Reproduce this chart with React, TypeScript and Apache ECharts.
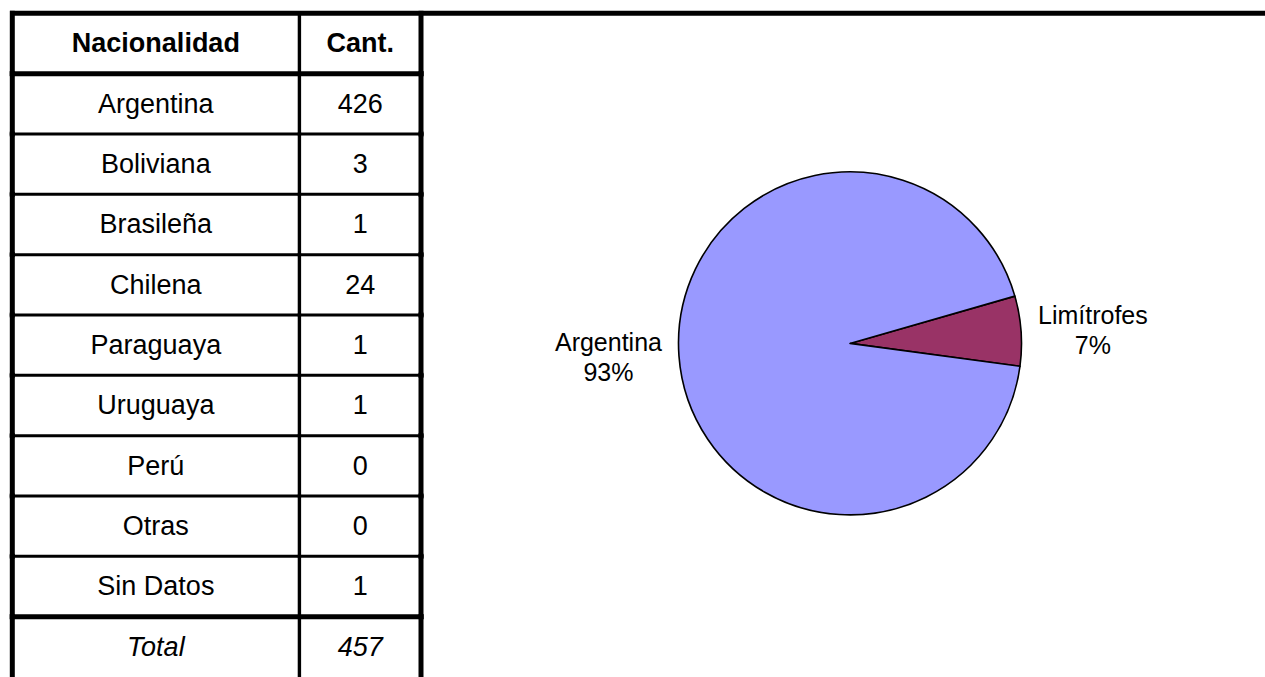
import React, { useEffect, useRef } from "react";
import * as echarts from "echarts";

// ---- Data ----
const headerLabels = ["Nacionalidad", "Cant."];
const nationalities = [
  "Argentina",
  "Boliviana",
  "Brasileña",
  "Chilena",
  "Paraguaya",
  "Uruguaya",
  "Perú",
  "Otras",
  "Sin Datos",
];
const counts = [426, 3, 1, 24, 1, 1, 0, 0, 1];
const totalLabel = "Total";
const totalCount = 457;

const pieNames = ["Limítrofes", "Argentina"];
const pieValues = [30, 426];
const pieColors = ["#993366", "#9999FF"];

const FONT = '"Liberation Sans", Arial, Helvetica, sans-serif';

type Row = { name: string; value: string; kind: "header" | "body" | "total" };

const rows: Row[] = [
  { name: headerLabels[0], value: headerLabels[1], kind: "header" },
  ...nationalities.map((n, i) => ({ name: n, value: String(counts[i]), kind: "body" as const })),
  { name: totalLabel, value: String(totalCount), kind: "total" },
];

const COL_SPLIT = 0.7025;

export default function App() {
  const ref = useRef<HTMLDivElement>(null);
  useEffect(() => {
    if (!ref.current) return;
    const chart = echarts.init(ref.current, undefined, { renderer: "svg" });
    const rowHeight = 61.07;
    chart.setOption({
      animation: false,
      backgroundColor: "#ffffff",
      grid: {
        left: 12.3,
        top: 13.3,
        width: 408.7,
        height: rowHeight * rows.length,
        containLabel: false,
      },
      xAxis: { type: "value", min: 0, max: 1, show: false },
      yAxis: {
        type: "category",
        inverse: true,
        data: rows.map((r) => r.name),
        show: false,
        boundaryGap: true,
      },
      graphic: [
        {
          type: "rect",
          shape: { x: 10, y: 10.8, width: 1255, height: 5 },
          style: { fill: "#000" },
          z: 100,
        },
      ],
      series: [
        {
          type: "custom",
          coordinateSystem: "cartesian2d",
          clip: false,
          data: rows.map((_, i) => [0.5, i]),
          encode: { x: 0, y: 1 },
          renderItem: (params: any, api: any) => {
            const i = params.dataIndex;
            const row = rows[i];
            const c = api.coord([0, i]);
            const bandH = api.size([0, 1])[1];
            const xL = c[0];
            const xD = api.coord([COL_SPLIT, i])[0];
            const xR = api.coord([1, i])[0];
            const yc = c[1];
            const yTop = yc - bandH / 2;
            const children: any[] = [];
            const lineW = i === 0 ? 0 : i === 1 ? 5 : row.kind === "total" ? 5 : 3;
            if (lineW > 0) {
              children.push({
                type: "rect",
                shape: { x: xL - 2.5, y: yTop - lineW / 2, width: xR - xL + 5, height: lineW },
                style: { fill: "#000" },
              });
            }
            children.push({
              type: "rect",
              shape: { x: xL - 2.5, y: yTop - 2.5, width: 5, height: bandH + 5 },
              style: { fill: "#000" },
            });
            children.push({
              type: "rect",
              shape: { x: xD - 1.7, y: yTop - 1.5, width: 3.4, height: bandH + 3 },
              style: { fill: "#000" },
            });
            children.push({
              type: "rect",
              shape: { x: xR - 2.5, y: yTop - 2.5, width: 5, height: bandH + 5 },
              style: { fill: "#000" },
            });
            const textStyle = {
              fontFamily: FONT,
              fontSize: 27,
              fontWeight: row.kind === "header" ? "bold" : "normal",
              fontStyle: row.kind === "total" ? "italic" : "normal",
              fill: "#000",
              align: "center",
              verticalAlign: "middle",
            };
            children.push({
              type: "text",
              x: (xL + xD) / 2,
              y: yc,
              style: { ...textStyle, text: row.name },
            });
            children.push({
              type: "text",
              x: (xD + xR) / 2,
              y: yc,
              style: { ...textStyle, text: row.value },
            });
            return { type: "group", children };
          },
        },
        {
          type: "pie",
          center: [850, 343.4],
          radius: 171.5,
          startAngle: 16,
          clockwise: true,
          avoidLabelOverlap: false,
          percentPrecision: 0,
          data: pieNames.map((n, i) => ({
            name: n,
            value: pieValues[i],
            itemStyle: { color: pieColors[i] },
          })),
          itemStyle: { borderColor: "#000", borderWidth: 1.6 },
          emphasis: { disabled: true },
          label: {
            show: true,
            position: "outside",
            formatter: "{c|{b}}\n{c|{d}%}",
            color: "#000",
            fontFamily: FONT,
            fontSize: 25,
            lineHeight: 30,
            rich: {
              c: {
                fontFamily: FONT,
                fontSize: 25,
                lineHeight: 30,
                color: "#000",
                align: "center",
              },
            },
          },
          labelLine: { show: false, length: 10, length2: 2 },
        },
      ],
    });
    return () => chart.dispose();
  }, []);
  return (
    <div
      ref={ref}
      style={{ position: "absolute", left: 0, top: 0, width: 1265, height: 677 }}
    />
  );
}
